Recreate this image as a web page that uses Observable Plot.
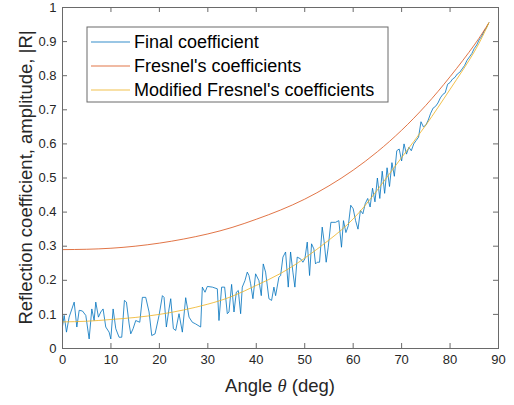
<!DOCTYPE html>
<html><head><meta charset="utf-8">
<script src="https://cdn.jsdelivr.net/npm/d3@7"></script>
<script src="https://cdn.jsdelivr.net/npm/@observablehq/plot@0.6"></script>
<style>body{margin:0;background:#fff}</style>
</head><body><div id="chart"></div>
<script>
const finalAngle = [0,0.34,0.82,1.37,2.41,2.96,3.44,4.12,4.81,5.5,6.05,6.53,6.87,7.42,7.9,8.38,8.93,9.62,9.97,10.45,11,11.68,12.23,12.78,13.2,13.75,14.09,14.57,15.12,15.95,16.49,17.18,17.87,18.42,19.11,19.93,20.62,20.96,21.44,21.99,22.34,22.89,23.37,24.05,24.74,25.43,26.12,26.8,27.49,28.52,28.87,29.42,29.9,30.93,31.96,32.3,32.85,33.47,34.02,34.36,34.91,35.4,35.88,36.29,36.77,37.11,37.66,38.14,38.49,38.83,39.31,39.86,40.55,41.03,41.44,41.92,42.61,43.16,43.64,43.99,44.67,45.02,45.5,46.05,46.6,47.08,47.56,47.97,48.45,49.14,49.62,50.03,50.52,51,51.41,51.89,52.23,52.58,53.06,53.61,54.02,54.43,54.85,55.4,56.36,57.04,57.59,58,58.5,59,59.5,60,60.5,61,61.5,62,62.5,63,63.5,64,64.5,65,65.5,66,66.5,67,67.5,68,68.5,69,69.5,70,70.5,71,71.5,72,72.5,73,73.5,74,74.5,75,75.5,76,76.5,77,77.5,78,78.5,79,79.5,80,80.5,81,81.5,82,82.5,83,83.5,84,84.5,85,85.5,86,86.5,87,87.5,88];
const finalR = [0.065,0.097,0.048,0.092,0.136,0.063,0.112,0.11,0.097,0.028,0.116,0.082,0.136,0.092,0.107,0.116,0.063,0.048,0.028,0.116,0.058,0.033,0.033,0.141,0.136,0.072,0.043,0.058,0.082,0.077,0.15,0.15,0.107,0.038,0.043,0.097,0.155,0.15,0.063,0.116,0.146,0.058,0.053,0.102,0.048,0.149,0.092,0.077,0.072,0.063,0.18,0.165,0.182,0.18,0.175,0.082,0.18,0.18,0.102,0.107,0.188,0.107,0.165,0.17,0.102,0.18,0.199,0.224,0.214,0.19,0.146,0.219,0.199,0.155,0.248,0.224,0.146,0.141,0.18,0.155,0.209,0.214,0.268,0.283,0.18,0.283,0.224,0.18,0.268,0.263,0.253,0.263,0.312,0.214,0.307,0.292,0.248,0.253,0.253,0.356,0.312,0.253,0.297,0.37,0.37,0.375,0.297,0.375,0.34,0.36,0.42,0.41,0.375,0.35,0.405,0.395,0.425,0.44,0.415,0.47,0.43,0.5,0.44,0.52,0.455,0.53,0.475,0.545,0.505,0.58,0.585,0.55,0.6,0.57,0.59,0.58,0.6,0.61,0.62,0.665,0.65,0.655,0.67,0.69,0.705,0.71,0.72,0.735,0.745,0.75,0.775,0.78,0.79,0.795,0.805,0.81,0.82,0.83,0.845,0.855,0.865,0.88,0.89,0.905,0.915,0.93,0.94,0.955];
const fresnelAngle = [0,5,10,15,20,25,30,35,40,45,50,55,60,65,70,75,80,85,88];
const fresnelR = [0.29,0.291,0.294,0.3,0.309,0.321,0.336,0.355,0.379,0.406,0.438,0.477,0.523,0.577,0.64,0.713,0.797,0.89,0.955];
const modAngle = [0,5,10,15,20,25,30,35,40,45,50,55,60,65,70,75,80,85,88];
const modR = [0.078,0.08,0.085,0.091,0.1,0.113,0.13,0.153,0.185,0.22,0.265,0.318,0.38,0.465,0.56,0.655,0.76,0.87,0.955];
const seriesNames = ["Final coefficient", "Fresnel's coefficients", "Modified Fresnel's coefficients"];
const seriesColors = ["#0072BD", "#D95319", "#EDB120"];
const xTicks = [0,10,20,30,40,50,60,70,80,90];
const yTicks = [0,0.1,0.2,0.3,0.4,0.5,0.6,0.7,0.8,0.9,1];
const yTickLabels = ["0","0.1","0.2","0.3","0.4","0.5","0.6","0.7","0.8","0.9","1"];
const xLabel = ["Angle ", "θ", " (deg)"];
const yLabel = "Reflection coefficient, amplitude, |R|";

const W = 514, H = 405, mL = 62, mR = 16, mT = 7, mB = 57;
const innerW = W - mL - mR, innerH = H - mT - mB;
const axisColor = "#262626";
const boxColor = "#6a6a6a";
const tick = 5;
const lineOpacity = 0.8;

const finalData = finalAngle.map((a, i) => ({a, r: finalR[i]}));
const fresnelData = fresnelAngle.map((a, i) => ({a, r: fresnelR[i]}));
const modData = modAngle.map((a, i) => ({a, r: modR[i]}));

const chart = Plot.plot({
  width: W, height: H,
  marginLeft: mL, marginRight: mR, marginTop: mT, marginBottom: mB,
  style: {fontFamily: "'Liberation Sans', Arial, sans-serif", fontSize: "13px", color: axisColor, background: "#fff"},
  x: {domain: [0, 90], label: null},
  y: {domain: [0, 1], label: null},
  marks: [
    Plot.line(finalData, {x: "a", y: "r", stroke: seriesColors[0], strokeWidth: 1, strokeOpacity: lineOpacity}),
    Plot.line(fresnelData, {x: "a", y: "r", stroke: seriesColors[1], strokeWidth: 1, strokeOpacity: lineOpacity, curve: "natural"}),
    Plot.line(modData, {x: "a", y: "r", stroke: seriesColors[2], strokeWidth: 1, strokeOpacity: lineOpacity, curve: "natural"}),
    Plot.gridX(xTicks, {stroke: boxColor, strokeOpacity: 1, insetTop: innerH - tick}),
    Plot.gridX(xTicks, {stroke: boxColor, strokeOpacity: 1, insetBottom: innerH - tick}),
    Plot.gridY(yTicks, {stroke: boxColor, strokeOpacity: 1, insetRight: innerW - tick}),
    Plot.gridY(yTicks, {stroke: boxColor, strokeOpacity: 1, insetLeft: innerW - tick}),
    Plot.axisX(xTicks, {tickSize: 0, tickPadding: 6, fontSize: 13, label: null, fill: axisColor}),
    Plot.axisY(yTicks, {tickSize: 0, tickPadding: 6, fontSize: 13, label: null, fill: axisColor,
      tickFormat: d => yTickLabels[yTicks.indexOf(d)]}),
    Plot.frame({stroke: boxColor, strokeWidth: 1})
  ]
});
document.getElementById("chart").append(chart);

const svg = d3.select(chart);
const font = "'Liberation Sans', Arial, sans-serif";
// x label
const xl = svg.append("text")
  .attr("x", mL + innerW / 2).attr("y", 392)
  .attr("text-anchor", "middle").attr("font-size", 18.5).attr("font-family", font).attr("fill", axisColor);
xl.append("tspan").text(xLabel[0]);
xl.append("tspan").attr("font-style", "italic").attr("font-family", "'Liberation Serif', 'Times New Roman', serif").text(xLabel[1]);
xl.append("tspan").text(xLabel[2]);
// y label
svg.append("text")
  .attr("transform", `translate(32,${mT + innerH / 2}) rotate(-90)`)
  .attr("text-anchor", "middle").attr("font-size", 18.5).attr("font-family", font).attr("fill", axisColor)
  .text(yLabel);
// legend
const lg = svg.append("g");
lg.append("rect").attr("x", 87).attr("y", 27).attr("width", 301).attr("height", 75)
  .attr("fill", "#fff").attr("stroke", boxColor).attr("stroke-width", 1);
seriesNames.forEach((name, i) => {
  const y = 42 + i * 24;
  lg.append("path").attr("d", `M91,${y}H130`)
    .attr("fill", "none").attr("stroke", seriesColors[i]).attr("stroke-opacity", lineOpacity).attr("stroke-width", 1);
  lg.append("text").attr("x", 134).attr("y", y).attr("dy", "0.35em").attr("text-anchor", "start")
    .attr("font-size", 18).attr("font-family", font).attr("fill", "#000").text(name);
});
</script>
</body></html>
